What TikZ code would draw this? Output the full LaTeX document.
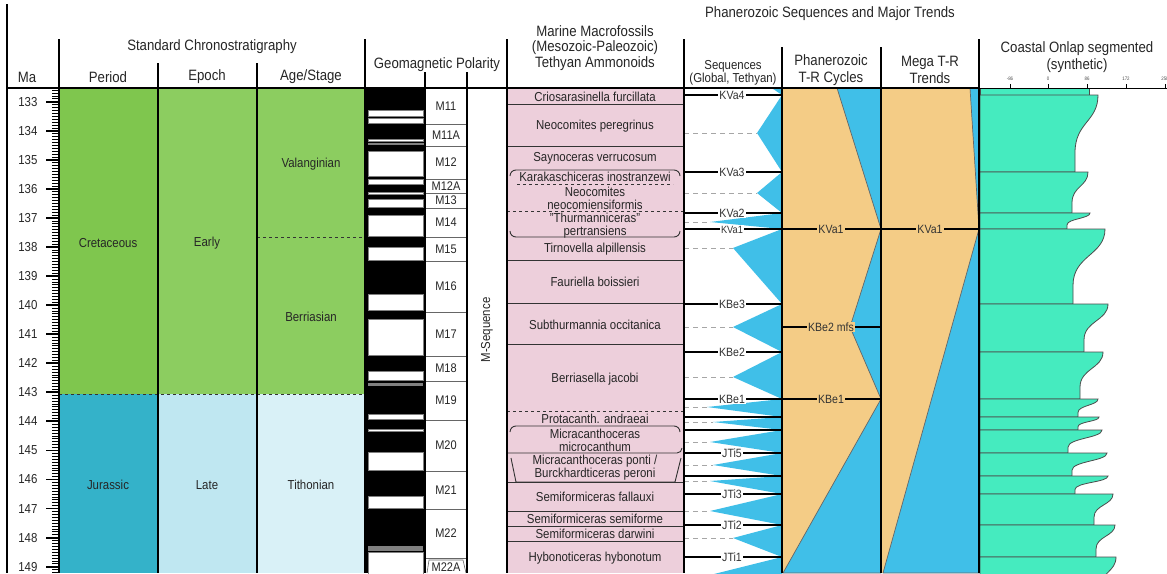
\documentclass[tikz,border=0pt]{standalone}
\usepackage{fontspec}
\setmainfont{Liberation Sans}[FakeStretch=0.88]
\usetikzlibrary{positioning}
\definecolor{cret}{HTML}{7FC64E}
\definecolor{ecret}{HTML}{8CCD60}
\definecolor{jur}{HTML}{34B2C9}
\definecolor{ljur}{HTML}{BFE7F1}
\definecolor{tith}{HTML}{D9F1F7}
\definecolor{ammo}{HTML}{EDCFDB}
\definecolor{seablue}{HTML}{40BFE8}
\definecolor{trorange}{HTML}{F4CC86}
\definecolor{onlap}{HTML}{45EBBF}
% one segment of the onlap curve: top, bottom, x at top, x at bottom
\newcommand{\onlapseg}[4]{\draw[onl] (980,#1) -- (#3,#1) .. controls (#3,{#1+0.35*(#2-#1)}) and (#4,{#1+0.35*(#2-#1)}) .. (#4,{#1+0.75*(#2-#1)}) -- (#4,#2) -- (980,#2) -- cycle;}
\begin{document}
\begin{tikzpicture}[x=1pt,y=-1pt,
  hd/.style={font=\fontsize{15}{16}\selectfont,text=black!85,align=center},
  nm/.style={font=\fontsize{13}{13}\selectfont,text=black!85,align=center},
  ck/.style={font=\fontsize{12.5}{13}\selectfont,text=black!85,inner sep=0pt},
  col/.style={line width=2.2pt},
  sb/.style={fill=white,inner sep=1pt,font=\fontsize{12}{12}\selectfont,text=black!80},
  ob/.style={fill=trorange,inner sep=1pt,font=\fontsize{12}{12}\selectfont,text=black!80},
  mfs/.style={gray!70,dash pattern=on 5pt off 4pt,line width=0.9pt},
  tr/.style={fill=seablue,draw=black!60,line width=0.7pt},
  onl/.style={fill=onlap,draw=black!70,line width=0.8pt}]
\useasboundingbox (0,0) rectangle (1167,573);
\fill[white] (0,0) rectangle (1167,573);

% chronostratigraphy fills
\fill[cret] (59,88) rectangle (158,394);\fill[jur] (59,394) rectangle (158,573);
\fill[ecret] (158,88) rectangle (365,394);\fill[ljur] (158,394) rectangle (257,573);
\fill[tith] (257,394) rectangle (365,573);
\draw[dashed,line width=1pt,black!80] (59,394) -- (365,394);\draw[dashed,line width=1pt,black!80] (257,237.7) -- (365,237.7);
\node[nm] (cretac) at (108,243){Cretaceous};\node[nm] (early) at (207,243){Early};
\node[nm] (valang) at (311,164){Valanginian};\node[nm] (berrias) at (311,317){Berriasian};
\node[nm] (jurass) at (108,485){Jurassic};\node[nm] (late) at (207,485){Late};\node[nm] (tithon) at (311,485){Tithonian};

% Ma scale
\foreach \i in {-4,...,162} \draw[line width=0.7pt] (52,{101.7+\i*2.906}) -- (59,{101.7+\i*2.906});
\foreach \m in {133,...,149}{
  \draw[line width=1.8pt] (46,{101.7+(\m-133)*29.06}) -- (59,{101.7+(\m-133)*29.06});
  \node[nm,anchor=east] (ma\m) at (41,{101.7+(\m-133)*29.06}){\m};}

% geomagnetic polarity
\fill[black] (366,88) rectangle (425,573);
\foreach \a/\b in {110/116.5,118/123,139.5/140.8,143/144.3,151/176,179/184,192/194,199/207,215/236,247/260,294/310,319/355,371/380,414/419,429.5/431,452/470,496/508,552/575}
  \draw[fill=white,draw=gray,line width=0.6pt] (368,\a) rectangle (423,\b);
\fill[gray] (368,383) rectangle (423,385.5);\fill[gray] (368,546) rectangle (423,550.5);
\foreach \a/\b/\c in {88/124/M11,124/146/M11A,146/179/M12,179/193/M12A,193/208/M13,208/237/M14,237/261/M15,261/312/M16,312/356/M17,356/381/M18,381/420/M19,420/471/M20,471/509/M21,509/558/M22}{
  \draw[black!60,line width=0.6pt] (425,\b) -- (467,\b);
  \node[ck] (chron\c) at (446,{(\a+\b)/2}){\c};}
\draw[black!60,line width=0.6pt] (427,573) -- (429,560) -- (463,560) -- (466,573);
\node[ck] (chronM22A) at (446,567){M22A};
\node[nm,rotate=90] (mseq) at (487,330){M-Sequence};

% ammonoid zones
\fill[ammo] (507,88) rectangle (683,573);
\foreach \y in {104,146,260,303,344,482,511,526,541} \draw[line width=0.9pt,black!80] (507,\y) -- (683,\y);
\foreach \y in {170,426} \draw[line width=0.9pt,black!80] (510,{\y+6}) to[out=90,in=180] (516,\y) -- (674,\y) to[out=0,in=90] (680,{\y+6});
\draw[line width=0.9pt,black!80] (510,231) to[out=-90,in=180] (516,237) -- (674,237) to[out=0,in=-90] (680,231);
\draw[line width=0.9pt,black!80] (507,453) -- (677,453) to[out=0,in=-90] (682,448);
\draw[line width=0.9pt,black!80] (511,458) -- (516,482) -- (675,482) -- (681,458);
\foreach \y in {211,411} \draw[dashed,line width=0.9pt,black!80] (507,\y) -- (683,\y);
\draw[dashed,line width=0.9pt,black!80] (517,184) -- (673,184);
\foreach \y/\t [count=\k] in {97/{Criosarasinella furcillata},126/{Neocomites peregrinus},158/{Saynoceras verrucosum},177/{Karakaschiceras inostranzewi},198/{Neocomites\\neocomiensiformis},226/{"Thurmanniceras"\\pertransiens},249/{Tirnovella alpillensis},282/{Fauriella boissieri},325/{Subthurmannia occitanica},379/{Berriasella jacobi},419/{Protacanth. andraeai},440/{Micracanthoceras\\microcanthum},468/{Micracanthoceras ponti /\\Burckhardticeras peroni},497/{Semiformiceras fallauxi},519/{Semiformiceras semiforme},534/{Semiformiceras darwini},558/{Hybonoticeras hybonotum}}
  \node[nm,inner sep=0pt] (zone\k) at (595,\y){\t};

% sequences
\begin{scope}
\clip (684,88) rectangle (782,573);
\foreach \a/\m/\x/\b in {60/78/757/95,95/133/757/172,172/193/757/213,213/222/710/229,229/248/733/304,304/327/733/352,352/377/733/399,399/407/707/417,417/422/713/430,430/442/710/453,453/465/713/476,476/481/710/494,494/511/710/525,525/538/733/557,557/575/710/593}{
  \fill[seablue] (782,\a) -- (\x,\m) -- (782,\b) -- cycle;
  \draw[mfs] (684,\m) -- (\x,\m);}
\end{scope}
\foreach \y in {417,430,476} \draw[line width=1.8pt] (684,\y) -- (782,\y);
\foreach \y/\t in {95/KVa4,172/KVa3,213/KVa2,304/KBe3,352/KBe2,399/KBe1,453/JTi5,494/JTi3,525/JTi2,557/JTi1}{
  \draw[line width=1.8pt] (684,\y) -- (782,\y);
  \node[sb] (seq\t) at (732,\y){\t};}

% Phanerozoic T-R cycles
\fill[trorange] (782,88) rectangle (979,573);
\draw[tr] (837,88) -- (881,88) -- (881,229) -- cycle;
\draw[tr] (881,229) -- (850,327) -- (881,399) -- cycle;
\draw[tr] (881,399) -- (783,573) -- (881,573) -- cycle;
\draw[line width=1.8pt] (782,327) -- (881,327);\draw[line width=1.8pt] (782,399) -- (881,399);
% Mega T-R trends
\draw[tr] (970,88) -- (979,88) -- (979,229) -- cycle;
\draw[tr] (979,229) -- (883,573) -- (979,573) -- cycle;
% KVa1 across three columns
\draw[line width=1.8pt] (684,229) -- (979,229);
\node[sb,font=\fontsize{10.5}{11}\selectfont] (seqKVa1) at (732,230){KVa1};
\node[ob] (trKVa1) at (831,229){KVa1};\node[ob] (megaKVa1) at (930,229){KVa1};
\node[ob] (trKBe2) at (831,327){KBe2 mfs};\node[ob] (trKBe1) at (831,399){KBe1};

% coastal onlap
\draw[onl] (980,88) rectangle (1089,95);
\onlapseg{95}{172}{1098}{1075}\onlapseg{172}{213}{1088}{1072}\onlapseg{213}{229}{1090}{1067}
\onlapseg{229}{304}{1105}{1073}\onlapseg{304}{352}{1108}{1084}\onlapseg{352}{399}{1103}{1080}
\onlapseg{399}{417}{1098}{1078}\onlapseg{417}{430}{1099}{1078}\onlapseg{430}{453}{1102}{1068}
\onlapseg{453}{476}{1107}{1072}\onlapseg{476}{494}{1108}{1075}\onlapseg{494}{525}{1113}{1094}
\onlapseg{525}{557}{1115}{1096}\onlapseg{557}{600}{1116}{1100}
\draw[line width=0.8pt] (979,88) -- (1167,88);
\foreach \x/\t in {1010/-86,1048/0,1087/86,1126/172,1165/258}{
  \draw[line width=0.6pt] (\x,84) -- (\x,88);
  \node[font=\fontsize{5}{5}\selectfont,text=black!70,inner sep=0pt] (tick\t) at (\x,79){\t};}

% frame and headers
\draw[line width=2pt] (7,88) -- (979,88);
\draw[col] (7,4) -- (7,573);
\foreach \x in {59,365,507,684,979} \draw[col] (\x,39) -- (\x,573);
\foreach \x in {158,257} \draw[col] (\x,63) -- (\x,573);
\foreach \x in {425,467} \draw[col] (\x,72) -- (\x,573);
\foreach \x in {782,881} \draw[col] (\x,47) -- (\x,573);
\node[hd] (hstd) at (212,47){Standard Chronostratigraphy};
\node[hd] (hma) at (27,77){Ma};\node[hd] (hper) at (108,77){Period};
\node[hd] (hepo) at (207,77){Epoch};\node[hd] (hage) at (311,77){Age/Stage};
\node[hd] (hgeo) at (437,65){Geomagnetic Polarity};
\node[hd,font=\fontsize{15}{15.5}\selectfont] (hmar) at (595,48){Marine Macrofossils\\(Mesozoic-Paleozoic)\\Tethyan Ammonoids};
\node[hd] (hphan) at (830,14){Phanerozoic Sequences and Major Trends};
\node[hd,font=\fontsize{13}{12}\selectfont] (hseq) at (733,73){Sequences\\(Global, Tethyan)};
\node[hd,font=\fontsize{15}{16.5}\selectfont] (htr) at (831,70){Phanerozoic\\T-R Cycles};
\node[hd,font=\fontsize{15}{16.5}\selectfont] (hmega) at (930,70){Mega T-R\\Trends};
\node[hd,font=\fontsize{15}{16.5}\selectfont] (hons) at (1077,57){Coastal Onlap segmented\\(synthetic)};
\end{tikzpicture}
\end{document}
